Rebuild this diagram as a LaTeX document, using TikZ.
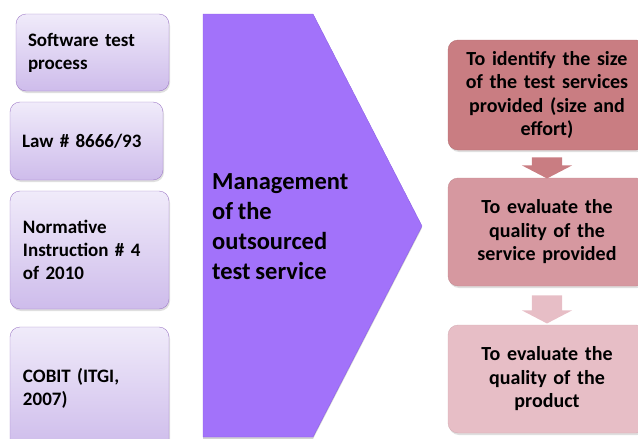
\documentclass[tikz,border=0pt]{standalone}
\usepackage{fontspec}
\setmainfont{Carlito}[WordSpace=0.85]
\usetikzlibrary{shapes.arrows,shadows,calc}

\definecolor{lilactop}{RGB}{240,235,250}
\definecolor{lilacbot}{RGB}{206,188,235}
\definecolor{lilacline}{RGB}{160,125,200}
\definecolor{chevfill}{RGB}{162,114,250}
\definecolor{chevline}{RGB}{140,96,228}
\definecolor{rosea}{RGB}{201,125,130}
\definecolor{roseb}{RGB}{214,152,160}
\definecolor{rosec}{RGB}{231,190,198}

\tikzset{
    source/.style={draw=lilacline, rounded corners=10pt,
        top color=lilactop, bottom color=lilacbot,
        align=left, inner xsep=12pt, inner ysep=0pt,
        font=\bfseries\fontsize{19}{23}\selectfont,
        drop shadow={opacity=0.25, shadow xshift=1pt, shadow yshift=-2pt}},
    goal/.style={rounded corners=10pt, minimum width=198pt,
        minimum height=108pt, text width=176pt, align=center,
        font=\bfseries\fontsize{20}{23.5}\selectfont,
        drop shadow={opacity=0.25, shadow xshift=1pt, shadow yshift=-2pt}},
    downarrow/.style={single arrow, shape border rotate=270,
        inner xsep=15pt, inner ysep=0pt, minimum width=0pt,
        single arrow head extend=10pt, single arrow tip angle=125},
}

\begin{document}
\begin{tikzpicture}[x=1pt,y=-1pt]

    \useasboundingbox (0,0) rectangle (638,439);
    \clip (0,0) rectangle (638,439);

    % inputs on the left
    \node[source, minimum width=153pt, minimum height=77pt, text width=129pt]
        (process) at (92.5,52.5) {Software test\\process};
    \node[source, minimum width=153pt, minimum height=78pt, text width=129pt]
        (law) at (86.5,141) {Law \# 8666/93};
    \node[source, minimum width=159pt, minimum height=118pt, text width=133pt]
        (norm) at (89.5,250) {Normative\\Instruction \# 4\\of 2010};
    \node[source, minimum width=159pt, minimum height=122pt, text width=133pt]
        (cobit) at (89.5,388) {COBIT (ITGI,\\2007)};

    % big chevron
    \filldraw[fill=chevfill, draw=chevline,
        drop shadow={opacity=0.35, shadow xshift=0pt, shadow yshift=-2pt}]
        (203,14) -- (313,14) -- (422,226) -- (313,437) -- (203,437) -- cycle;
    \node[anchor=west, align=left, inner sep=0pt,
        font=\bfseries\fontsize{24.5}{30}\selectfont]
        (mgmt) at (212,227) {Management\\of the\\outsourced\\test service};

    % goals on the right
    \node[goal, fill=rosea, draw=rosea!90!black, minimum height=110pt]
        (size) at (547,95) {To identify the size\\of the test services\\provided (size and\\effort)};
    \node[goal, fill=roseb, draw=roseb!92!black]
        (service) at (547,232) {To evaluate the\\quality of the\\service provided};
    \node[goal, fill=rosec, draw=rosec!92!black]
        (product) at (547,379) {To evaluate the\\quality of the\\product};

    \node[downarrow, fill=rosea, minimum height=21pt]
        (arra) at ($(size.south)!0.5!(service.north)$) {};
    \node[downarrow, fill=rosec, minimum height=28pt]
        (arrb) at ($(service.south)!0.5!(product.north)$) {};

\end{tikzpicture}
\end{document}
